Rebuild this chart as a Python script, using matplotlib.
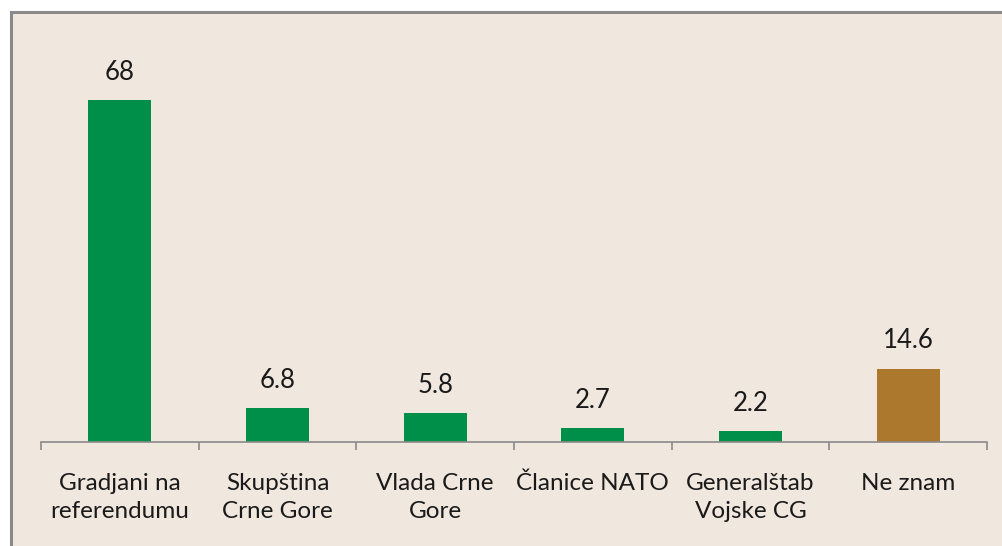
import matplotlib
matplotlib.use("Agg")
import matplotlib.pyplot as plt
from matplotlib.patches import Rectangle

categories = ["Gradjani na\nreferendumu", "Skupština\nCrne Gore", "Vlada Crne\nGore",
              "Članice NATO", "Generalštab\nVojske CG", "Ne znam"]
values = [68, 6.8, 5.8, 2.7, 2.2, 14.6]
value_labels = ["68", "6.8", "5.8", "2.7", "2.2", "14.6"]
colors = ["#008F48", "#008F48", "#008F48", "#008F48", "#008F48", "#AB782D"]

plt.rcParams["font.family"] = ["Lato", "DejaVu Sans"]

W, H = 1003, 546
fig = plt.figure(figsize=(W / 100, H / 100), dpi=100)
fig.patch.set_facecolor("white")

# framed beige chart area, cut off at right and bottom
fig.patches.append(Rectangle((11 / W, -0.05), 1.1, (H - 12) / H + 0.05,
                             transform=fig.transFigure, facecolor="#F0E7DF",
                             edgecolor="#8A8A8A", linewidth=2.2, zorder=-10))

ax = fig.add_axes([41 / W, (H - 442) / H, (987 - 41) / W, (442 - 30) / H])
ax.set_facecolor("none")
ax.set_zorder(5)

x = range(len(values))
ax.bar(x, values, width=0.4, color=colors, zorder=2)
for xi, v, lab in zip(x, values, value_labels):
    ax.annotate(lab, (xi, v), xytext=(0, 11), textcoords="offset points",
                ha="center", va="bottom", fontsize=18.5, color="#1A1A1A")

ax.set_xlim(-0.5, len(values) - 0.5)
ax.set_ylim(0, 81.9)
ax.set_yticks([])
for s in ["left", "top", "right"]:
    ax.spines[s].set_visible(False)
ax.spines["bottom"].set_color("#8A8A8A")
ax.spines["bottom"].set_linewidth(1.2)

ax.set_xticks(list(x))
ax.set_xticklabels(categories, fontsize=17.5, color="#1A1A1A", linespacing=1.45)
ax.tick_params(axis="x", which="major", length=0, pad=22)
ax.set_xticks([i - 0.5 for i in range(len(values) + 1)], minor=True)
ax.tick_params(axis="x", which="minor", length=6, width=1.2, color="#8A8A8A")
for t in ax.get_xticklabels():
    t.set_verticalalignment("top")

fig.savefig("out.png", dpi=100)
